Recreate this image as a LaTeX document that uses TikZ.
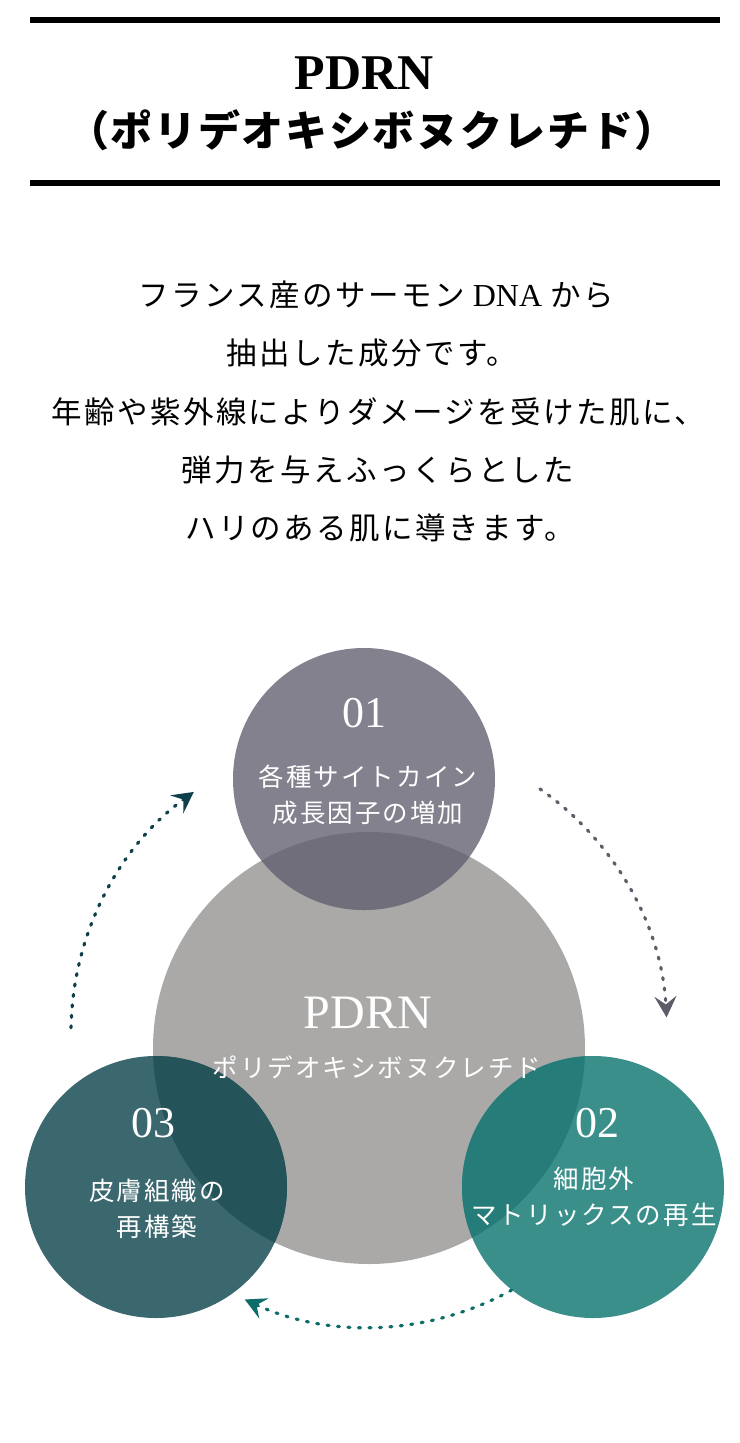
\documentclass[tikz,border=0pt]{standalone}
\usepackage{fontspec}
\setmainfont{Liberation Serif}
\newfontfamily\jp[LetterSpace=8]{Noto Sans CJK JP}
\newfontfamily\jptitle[LetterSpace=4]{Noto Sans CJK JP}
\usetikzlibrary{arrows.meta,calc}
\definecolor{corefill}{RGB}{170,169,168}
\definecolor{onefill}{RGB}{131,129,141}
\definecolor{onedeep}{RGB}{112,110,122}
\definecolor{twofill}{RGB}{58,143,138}
\definecolor{twodeep}{RGB}{38,124,120}
\definecolor{threefill}{RGB}{59,103,110}
\definecolor{threedeep}{RGB}{36,83,90}
\definecolor{arrowone}{RGB}{94,92,105}
\definecolor{arrowtwo}{RGB}{13,110,105}
\definecolor{arrowthree}{RGB}{13,64,73}
\tikzset{
    rulebar/.style={
        line width=6pt,
        draw=black
    },
    bodytext/.style={
        align=center,
        inner sep=0pt,
        font=\jp\fontsize{30.5}{34}\selectfont
    },
    blob/.style={
        circle,
        inner sep=0pt,
        minimum size=262pt
    },
    numlabel/.style={
        text=white,
        inner sep=0pt,
        font=\fontsize{44}{44}\selectfont
    },
    blobtext/.style={
        text=white,
        align=center,
        inner sep=0pt,
        font=\jp\fontsize{25.5}{36}\selectfont
    },
    cyclearrow/.style={
        line width=3.2pt,
        line cap=round,
        dash pattern=on 2pt off 8.5pt,
        -{Stealth[length=21pt,width=22pt,inset=8pt]}
    }
}

\begin{document}
\begin{tikzpicture}[x=1pt,y=1pt]
    \useasboundingbox (0,0) rectangle (739,-1443);

    % heading
    \draw[rulebar] (30,-20) -- (720,-20);
    \draw[rulebar] (30,-183) -- (720,-183);
    \node[inner sep=0pt, font=\bfseries\fontsize{50}{50}\selectfont] (title) at (364,-73) {PDRN};
    \node[inner sep=0pt, font=\jptitle\bfseries\fontsize{42}{42}\selectfont] (subtitle) at (372,-130) {（ポリデオキシボヌクレチド）};

    % lead text
    \node[bodytext] (lead1) at (376,-295) {フランス産のサーモン{\rmfamily\fontsize{32}{34}\selectfont\ DNA }から};
    \node[bodytext] (lead2) at (372,-353) {抽出した成分です。};
    \node[bodytext] (lead3) at (378,-412) {年齢や紫外線によりダメージを受けた肌に、};
    \node[bodytext] (lead4) at (378,-470) {弾力を与えふっくらとした};
    \node[bodytext] (lead5) at (380,-528) {ハリのある肌に導きます。};

    % circles
    \node[circle, inner sep=0pt, minimum size=432pt, fill=corefill] (core) at (369,-1048) {};
    \node[blob, fill=onefill] (one) at (364,-779) {};
    \node[blob, fill=twofill] (two) at (593,-1187) {};
    \node[blob, fill=threefill] (three) at (156,-1187) {};
    \begin{scope}
        \clip (core.center) circle (216pt);
        \fill[onedeep] (one.center) circle (131pt);
        \fill[twodeep] (two.center) circle (131pt);
        \fill[threedeep] (three.center) circle (131pt);
    \end{scope}

    \node[inner sep=0pt, text=white, font=\fontsize{48}{48}\selectfont] (coretitle) at (368,-1013) {PDRN};
    \node[blobtext] (coresub) at (377,-1067) {ポリデオキシボヌクレチド};
    \node[numlabel] (onenum) at (364,-713) {01};
    \node[blobtext] (onetext) at (368,-795) {各種サイトカイン\\成長因子の増加};
    \node[numlabel] (twonum) at (597,-1123) {02};
    \node[blobtext] (twotext) at (594,-1197) {細胞外\\マトリックスの再生};
    \node[numlabel] (threenum) at (153,-1123) {03};
    \node[blobtext] (threetext) at (157,-1209) {皮膚組織の\\再構築};

    % cycle arrows
    \coordinate (hub) at (369,-1033);
    \coordinate (onestart) at ($(hub)+(55:298pt)$);
    \coordinate (twostart) at ($(hub)+(-61:294pt)$);
    \coordinate (threestart) at ($(hub)+(179:298pt)$);
    \draw[cyclearrow, draw=arrowone] (onestart) arc[start angle=55, end angle=3, radius=298pt];
    \draw[cyclearrow, draw=arrowtwo] (twostart) arc[start angle=-61, end angle=-115, radius=294pt];
    \draw[cyclearrow, draw=arrowthree] (threestart) arc[start angle=179, end angle=126, radius=298pt];
\end{tikzpicture}
\end{document}
